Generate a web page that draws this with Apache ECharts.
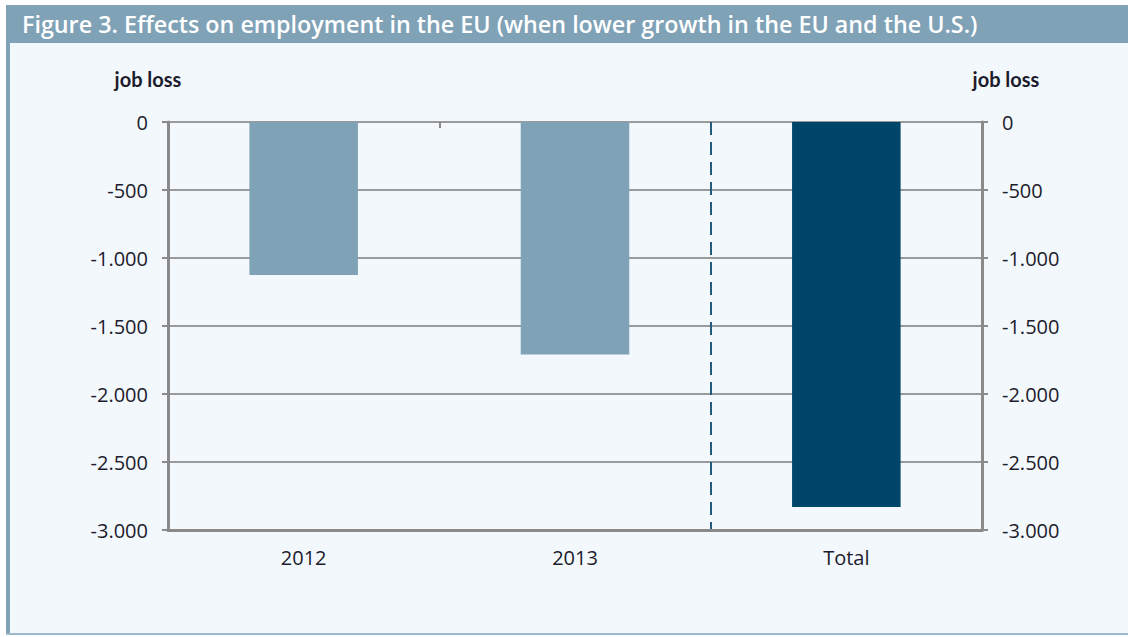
<!DOCTYPE html>
<html>
<head>
<meta charset="utf-8">
<script src="https://cdn.jsdelivr.net/npm/echarts@6/dist/echarts.min.js"></script>
<style>
  html, body { margin: 0; padding: 0; background: #ffffff; }
  #chart { width: 1128px; height: 637px; }
</style>
</head>
<body>
<div id="chart"></div>
<script>
// Employment effect in the EU, thousands of jobs (negative = job loss)
var categories = ['2012', '2013', 'Total'];
var jobLoss = [-1125, -1710, -2830];
var barColors = ['#7fa2b7', '#7fa2b7', '#00466b'];

// Value axis range and step
var yMin = -3000;
var yMax = 0;
var yStep = 500;

// Band edges between the categories (used for the separator tick and dashed line)
var bandEdges = ['start', '2012|2013', '2013|Total', 'end'];

var titleText = 'Figure 3. Effects on employment in the EU (when lower growth in the EU and the U.S.)';
var axisName = 'job loss';

function formatThousands(v) {
  var s = String(Math.abs(v)).replace(/\B(?=(\d{3})+(?!\d))/g, '.');
  return (v < 0 ? '-' : '') + s;
}

var textColor = '#1c1c2c';
var labelFont = 'Open Sans';

var chart = echarts.init(document.getElementById('chart'), null, { renderer: 'svg' });

var yAxisCommon = {
  type: 'value',
  min: yMin,
  max: yMax,
  interval: yStep,
  axisLine: { show: true, lineStyle: { color: '#8a8a8a', width: 3 } },
  axisTick: { show: true, length: 6, lineStyle: { color: '#8a8a8a', width: 2 } },
  splitLine: { show: true, lineStyle: { color: '#9a9a9a', width: 2 } },
  axisLabel: {
    color: textColor, fontSize: 20, fontFamily: labelFont, margin: 20,
    formatter: formatThousands
  },
  name: axisName,
  nameLocation: 'end',
  nameGap: 33
};

chart.setOption({
  backgroundColor: '#ffffff',
  animation: false,
  graphic: [
    { type: 'rect', z: -10, shape: { x: 6, y: 43, width: 1122, height: 592 }, style: { fill: '#f3f8fc' } },
    { type: 'rect', z: -9, shape: { x: 6, y: 5, width: 1122, height: 38 }, style: { fill: '#7fa2b7' } },
    { type: 'rect', z: -9, shape: { x: 6, y: 43, width: 4, height: 592 }, style: { fill: '#7fa2b7' } },
    { type: 'rect', z: -9, shape: { x: 6, y: 633, width: 1122, height: 2 }, style: { fill: '#9dbbcc' } }
  ],
  title: {
    text: titleText,
    left: 22,
    top: 12,
    padding: 0,
    textStyle: { color: '#ffffff', fontSize: 23.3, fontWeight: 600, fontFamily: 'Open Sans' }
  },
  grid: { left: 168, right: 146, top: 122, bottom: 107, containLabel: false },
  xAxis: [
    {
      type: 'category',
      data: categories,
      position: 'bottom',
      axisLine: { show: true, onZero: false, lineStyle: { color: '#8a8a8a', width: 3 } },
      axisTick: { show: false },
      splitLine: { show: false },
      axisLabel: { color: textColor, fontSize: 20, fontFamily: labelFont, margin: 17 }
    },
    {
      type: 'category',
      data: bandEdges,
      boundaryGap: false,
      position: 'top',
      axisLine: { show: false },
      axisLabel: { show: false },
      axisTick: {
        show: true, inside: true, length: 6,
        interval: function (i) { return i === 1; },
        lineStyle: { color: '#8a8a8a', width: 2 }
      },
      splitLine: {
        show: true,
        interval: function (i) { return i === 2; },
        lineStyle: { color: '#245a7c', width: 2, type: [13, 7] }
      }
    }
  ],
  yAxis: [
    Object.assign({}, yAxisCommon, {
      position: 'left',
      nameTextStyle: { color: textColor, fontSize: 20, fontWeight: 'bold', fontFamily: 'Lato', align: 'center', padding: [0, 40, 0, 0] }
    }),
    Object.assign({}, yAxisCommon, {
      position: 'right',
      splitLine: { show: false },
      nameTextStyle: { color: textColor, fontSize: 20, fontWeight: 'bold', fontFamily: 'Lato', align: 'center', padding: [0, 0, 0, 48] }
    })
  ],
  series: [
    {
      type: 'bar',
      xAxisIndex: 0,
      yAxisIndex: 0,
      barWidth: '40%',
      data: jobLoss.map(function (v, i) {
        return { value: v, itemStyle: { color: barColors[i] } };
      }),
      z: 3
    }
  ]
});
</script>
</body>
</html>
